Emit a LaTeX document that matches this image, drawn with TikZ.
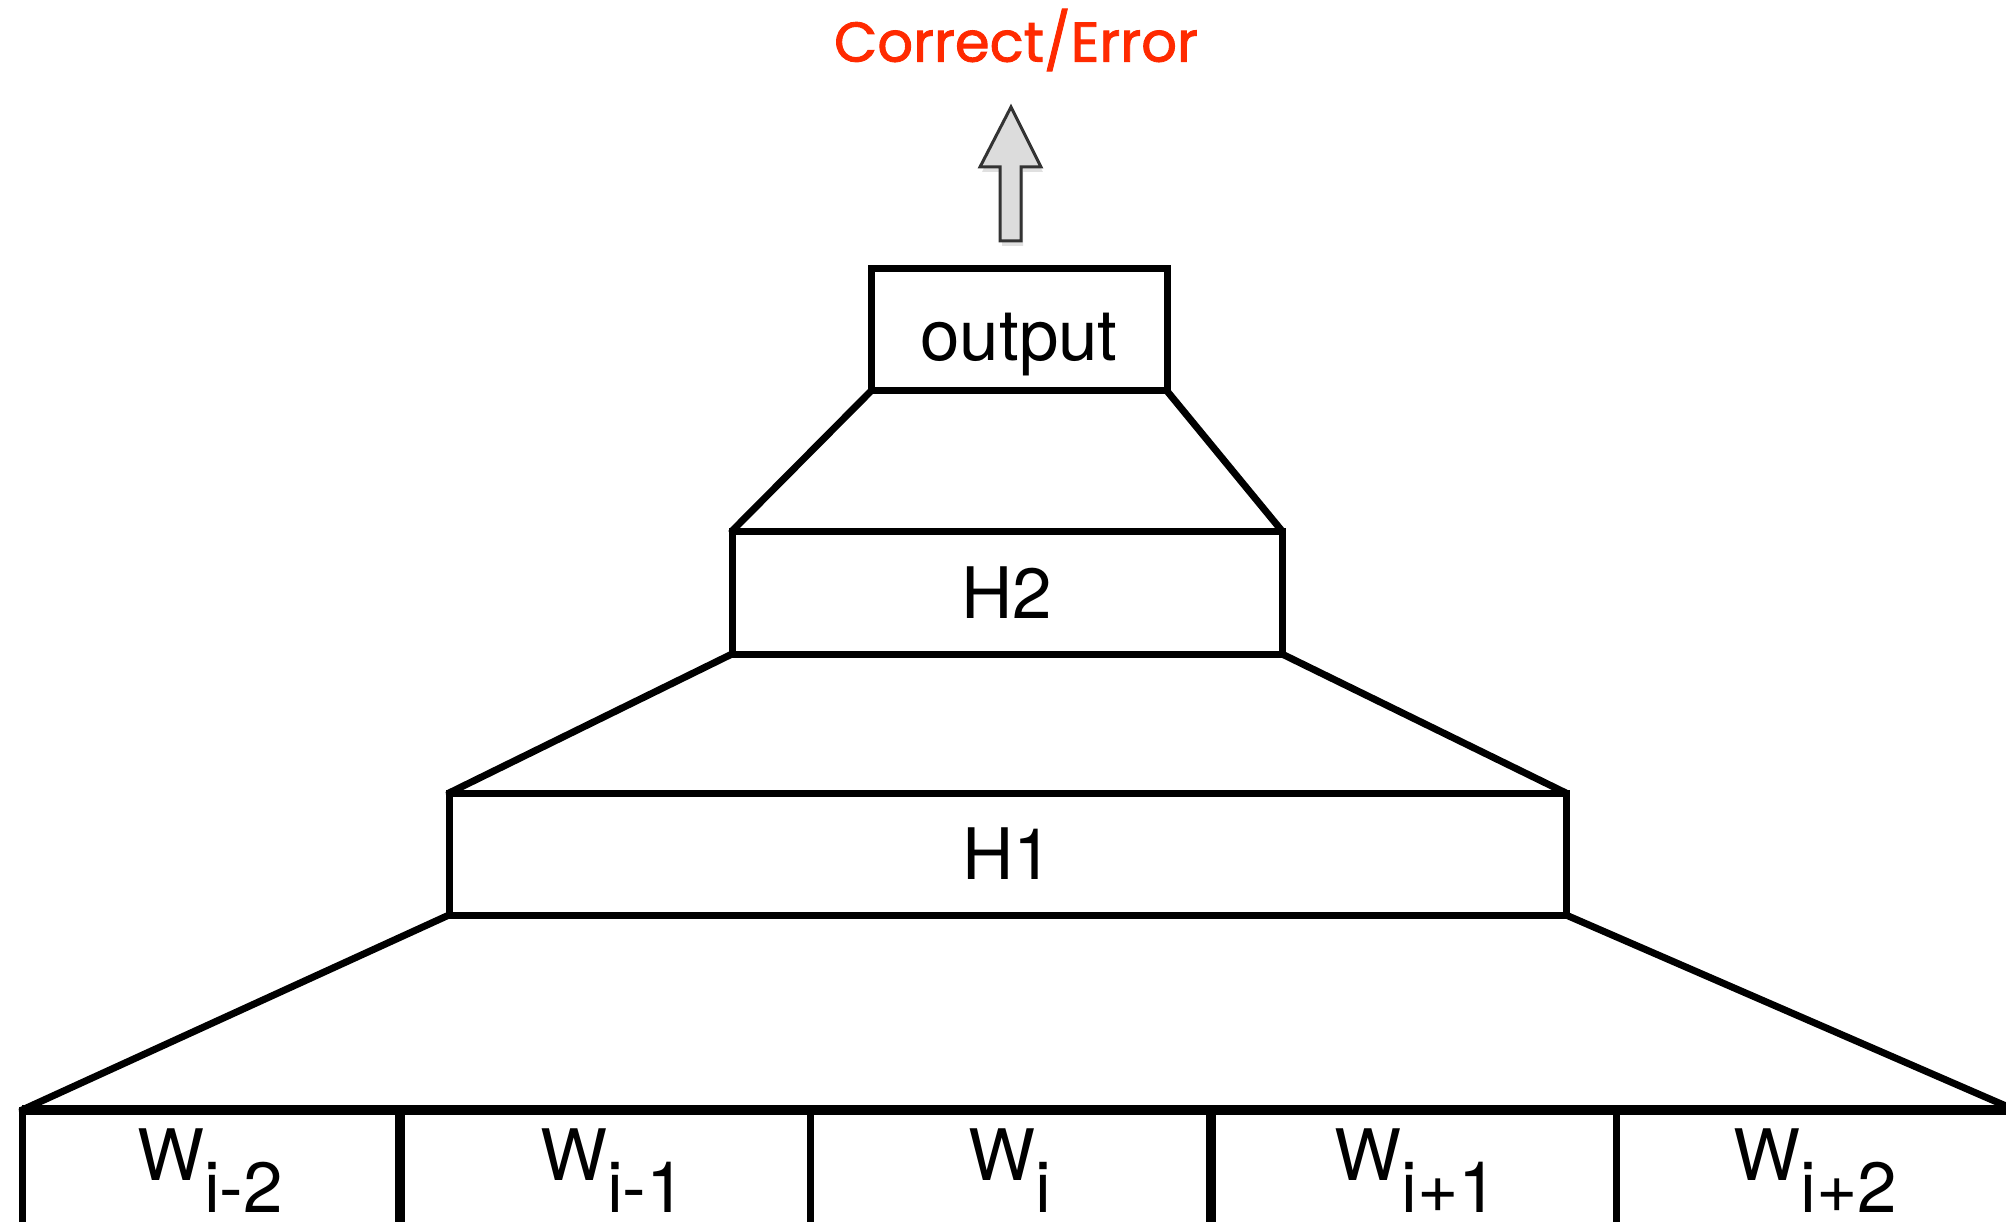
\documentclass[tikz,border=0pt]{standalone}
\usepackage{fontspec}
\setmainfont{TeX Gyre Heros}
\newfontfamily\notefont[FakeBold=1.6]{Poppins}
\definecolor{notered}{HTML}{FF2A00}
\definecolor{arrowfill}{HTML}{DCDCDC}
\definecolor{arrowline}{HTML}{333333}
\begin{document}
\begin{tikzpicture}[x=1pt,y=-1pt]
\tikzset{
  layer/.style={draw=black, line width=7pt, inner sep=0pt, outer sep=0pt,
                font=\fontsize{71}{80}\selectfont},
  fan/.style={line width=7pt, line cap=round},
  cell/.style={draw=black, line width=7pt, anchor=north west, inner sep=0pt,
               outer sep=0pt, minimum height=200pt},
  heavy/.style={line width=10pt},
  wlabel/.style={anchor=base west, inner sep=0pt, font=\fontsize{71}{80}\selectfont},
}
\useasboundingbox (0,0) rectangle (2006,1222);
\clip (0,0) rectangle (2006,1222);

% result label and the upward block arrow
\node[text=notered, font=\notefont\fontsize{56}{60}\selectfont] (res) at (1016,40) {Correct/Error};
\fill[black, opacity=0.12] (1011,112) -- (1043,172) -- (1023,172) -- (1023,246)
   -- (1002,246) -- (1002,172) -- (982,172) -- cycle;
\draw[line width=3pt, draw=arrowline, fill=arrowfill, line join=miter]
   (1011,107) -- (1041,167) -- (1021,167) -- (1021,241)
   -- (1000,241) -- (1000,167) -- (980,167) -- cycle;

% stacked layers
\node[layer, minimum width=296pt, minimum height=122pt] (out) at (1019,330)
   {\raisebox{-31pt}[0pt][0pt]{output}};
\node[layer, minimum width=550pt, minimum height=123pt] (h2) at (1007,592.5) {H2};
\node[layer, minimum width=1117pt, minimum height=122pt] (h1) at (1007.5,854) {H1};

% input word window
\node[cell, minimum width=378pt] (w1) at (22,1110) {};
\node[cell, minimum width=410pt] (w2) at (400,1110) {};
\node[cell, minimum width=401pt] (w3) at (810,1110) {};
\node[cell, minimum width=405pt] (w4) at (1211,1110) {};
\node[cell, minimum width=420pt] (w5) at (1616,1110) {};
\draw[heavy] (w1.north west) -- (w5.north east);
\draw[heavy] (w2.north west) -- (w2.south west);
\draw[heavy] (w4.north west) -- (w4.south west);

\node[wlabel] (l1) at (137,1180) {W\raisebox{-32pt}{i-2}};
\node[wlabel] (l2) at (540,1180) {W\raisebox{-32pt}{i-1}};
\node[wlabel] (l3) at (968,1180) {W\raisebox{-32pt}{i}};
\node[wlabel] (l4) at (1334,1180) {W\raisebox{-32pt}{i+1}};
\node[wlabel] (l5) at (1733,1180) {W\raisebox{-32pt}{i+2}};

% fan-in lines between layers
\coordinate (rightend) at (2006,1106);
\draw[fan] (out.south west) -- (h2.north west);
\draw[fan] (out.south east) -- (h2.north east);
\draw[fan] (h2.south west) -- (h1.north west);
\draw[fan] (h2.south east) -- (h1.north east);
\draw[fan] (h1.south west) -- (w1.north west);
\draw[fan] (h1.south east) -- (rightend);
\end{tikzpicture}
\end{document}
